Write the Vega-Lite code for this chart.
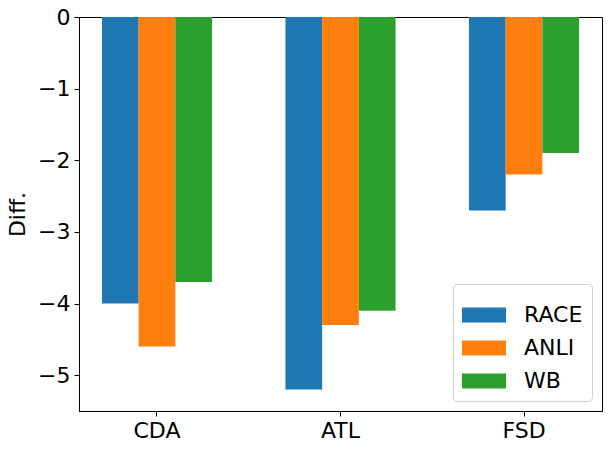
{
  "$schema": "https://vega.github.io/schema/vega-lite/v6.json",
  "autosize": "none",
  "width": 523,
  "height": 394,
  "padding": {"left": 79, "top": 17, "right": 10, "bottom": 40},
  "background": "white",
  "data": {
    "values": [
      {"task": "CDA", "dataset": "RACE", "diff": -4.0},
      {"task": "CDA", "dataset": "ANLI", "diff": -4.6},
      {"task": "CDA", "dataset": "WB", "diff": -3.7},
      {"task": "ATL", "dataset": "RACE", "diff": -5.2},
      {"task": "ATL", "dataset": "ANLI", "diff": -4.3},
      {"task": "ATL", "dataset": "WB", "diff": -4.1},
      {"task": "FSD", "dataset": "RACE", "diff": -2.7},
      {"task": "FSD", "dataset": "ANLI", "diff": -2.2},
      {"task": "FSD", "dataset": "WB", "diff": -1.9}
    ]
  },
  "mark": {"type": "bar"},
  "encoding": {
    "x": {
      "field": "task",
      "type": "nominal",
      "sort": ["CDA", "ATL", "FSD"],
      "title": null,
      "scale": {"paddingInner": 0.4, "paddingOuter": 0.125},
      "axis": {"labelAngle": 0, "labelPadding": 4}
    },
    "xOffset": {
      "field": "dataset",
      "type": "nominal",
      "sort": ["RACE", "ANLI", "WB"],
      "scale": {"paddingInner": 0, "paddingOuter": 0}
    },
    "y": {
      "field": "diff",
      "type": "quantitative",
      "title": "Diff.",
      "scale": {"domain": [-5.5, 0], "nice": false, "zero": false},
      "axis": {"values": [-5, -4, -3, -2, -1, 0], "format": "d", "labelPadding": 4, "titlePadding": 8}
    },
    "color": {
      "field": "dataset",
      "type": "nominal",
      "scale": {"domain": ["RACE", "ANLI", "WB"], "range": ["#1f77b4", "#ff7f0e", "#2ca02c"]},
      "legend": {
        "title": null,
        "orient": "bottom-right",
        "offset": 10,
        "symbolType": "M-1,-0.34L1,-0.34L1,0.34L-1,0.34Z",
        "symbolSize": 1936,
        "symbolStrokeWidth": 0,
        "labelFontSize": 22,
        "labelOffset": 18,
        "rowPadding": -3,
        "padding": 9,
        "fillColor": "white",
        "strokeColor": "#d0d0d0",
        "cornerRadius": 4
      }
    }
  },
  "config": {
    "font": "DejaVu Sans",
    "view": {"stroke": "black", "strokeWidth": 1},
    "axis": {
      "grid": false,
      "domainColor": "black",
      "tickColor": "black",
      "tickSize": 5,
      "labelFontSize": 22,
      "labelColor": "black",
      "titleFontSize": 22,
      "titleFontWeight": "normal",
      "titleColor": "black"
    },
    "legend": {"labelColor": "black", "labelFont": "DejaVu Sans"}
  }
}
